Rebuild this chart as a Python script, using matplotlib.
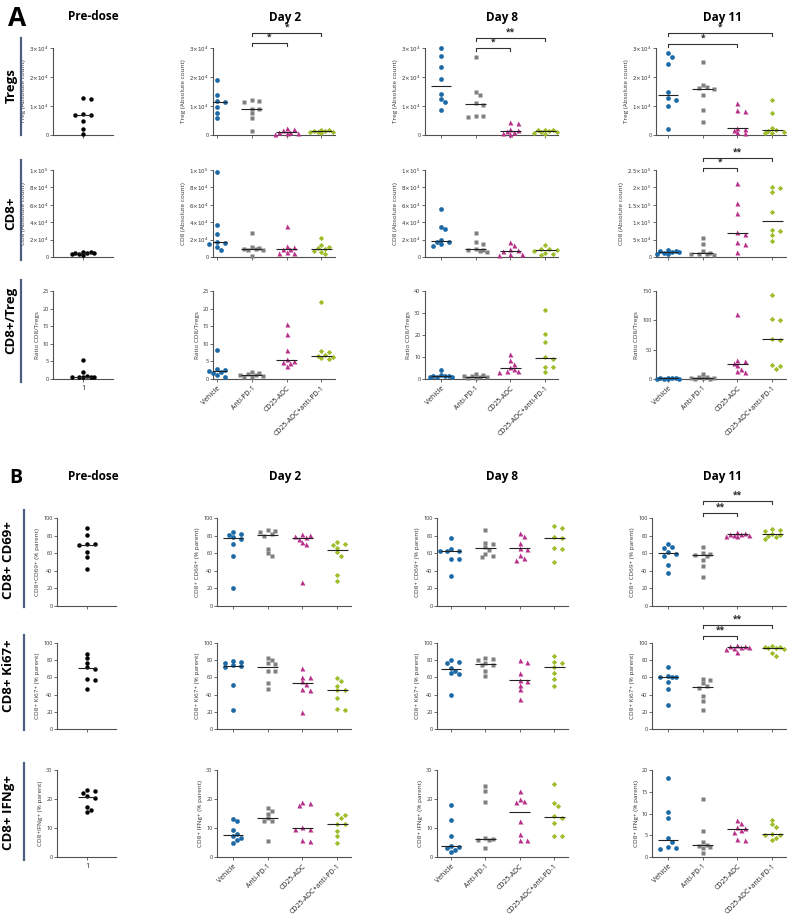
import matplotlib
matplotlib.use('Agg')
import matplotlib.pyplot as plt
import matplotlib.transforms as mtransforms
import numpy as np

plt.rcParams['font.family'] = ['Open Sans', 'DejaVu Sans']
plt.rcParams['mathtext.fontset'] = 'dejavusans'

groups = ['Vehicle', 'Anti-PD-1', 'CD25-ADC', 'CD25-ADC+anti-PD-1']
colors = ['#1b69a6', '#7f7f7f', '#b8328b', '#9dbd2b']
markers = ['o', 's', '^', 'D']
msizes = [3.4, 3.2, 3.6, 2.7]

# ---- panel A ----
treg_pre = [12700, 12300, 7200, 7000, 6900, 4700, 2200, 300]
treg_d2 = [[19000, 13900, 11600, 11400, 9700, 7700, 6000],
           [12000, 11700, 11400, 9100, 8800, 7600, 6000, 1400],
           [2500, 2000, 1800, 1200, 1000, 800, 600, 500],
           [1800, 1600, 1400, 1300, 1200, 1000, 900, 800]]
treg_d8 = [[30000, 27100, 23300, 19400, 14100, 12500, 11400, 8700],
           [26900, 14700, 13800, 11000, 10400, 6700, 6600, 6300],
           [4600, 4000, 2000, 1700, 1300, 1000, 600, 300],
           [1800, 1700, 1600, 1300, 1200, 1000, 700, 500]]
treg_d11 = [[28200, 26800, 24500, 15000, 12600, 12000, 10000, 2100],
            [25300, 17200, 16500, 16100, 15900, 13800, 8600, 4400],
            [10900, 8600, 8300, 2500, 2200, 1800, 900, 600],
            [12000, 7700, 2500, 1800, 1500, 1200, 800, 600]]

cd8_pre = [6000, 5500, 5000, 4500, 4200, 4000, 3500, 2500]
cd8_d2 = [[98000, 37000, 26000, 17500, 16500, 15500, 11000, 8500],
          [28000, 11000, 10000, 9500, 9000, 8500, 7500, 1500],
          [36000, 12500, 12000, 9500, 9000, 5500, 5000, 5000],
          [22000, 13500, 12000, 10000, 9000, 7000, 5500, 3000]]
cd8_d8 = [[55500, 35000, 32000, 19500, 17500, 17000, 14500, 13000],
          [28000, 17000, 15500, 9500, 8500, 7500, 7000, 6000],
          [17500, 14000, 9000, 7500, 7000, 3000, 3000, 2500],
          [14000, 9500, 9000, 8000, 7000, 5000, 3000, 2000]]
cd8_d11 = [[20000, 18000, 17000, 15000, 14000, 12000, 10000, 8000],
           [54000, 37000, 16000, 12000, 10000, 9000, 8000, 6000],
           [213000, 154000, 126000, 71000, 66000, 42000, 38000, 13000],
           [202000, 197000, 186000, 128000, 78000, 75000, 62000, 45000]]

ratio_pre = [5.4, 1.9, 0.8, 0.7, 0.7, 0.6, 0.6, 0.5]
ratio_d2 = [[8.3, 2.9, 2.6, 2.4, 2.0, 1.8, 1.0, 0.6],
            [2.0, 1.6, 1.4, 1.2, 1.0, 0.8, 0.7, 0.6],
            [15.5, 12.7, 8.1, 5.6, 5.2, 4.8, 4.5, 3.6],
            [22.0, 7.9, 7.7, 6.8, 6.5, 6.3, 5.9, 5.6]]
ratio_d8 = [[4.3, 1.8, 1.5, 1.3, 1.2, 1.0, 0.8, 0.7],
            [2.4, 1.8, 1.5, 1.2, 1.0, 0.8, 0.6, 0.5],
            [11.3, 8.5, 6.8, 5.5, 4.4, 3.8, 3.5, 3.1],
            [31.2, 20.3, 16.8, 10.0, 9.2, 5.5, 5.5, 3.3]]
ratio_d11 = [[2.0, 1.5, 1.2, 1.0, 0.8, 0.6, 0.5, 0.3],
             [8, 4, 3, 2, 1.5, 1, 0.8, 0.5],
             [110, 33, 31, 28, 24, 17, 13, 12],
             [144, 103, 101, 68, 67, 24, 23, 17]]

# ---- panel B ----
cd69_pre = [89, 81, 71, 70, 69, 61, 56, 42]
cd69_d2 = [[84, 82, 81, 78, 76, 70, 57, 21],
           [86, 85, 84, 82, 80, 65, 60, 57],
           [82, 81, 80, 78, 76, 73, 70, 27],
           [73, 71, 69, 66, 61, 57, 35, 28]]
cd69_d8 = [[77, 65, 63, 62, 62, 53, 53, 34],
           [86, 72, 71, 67, 64, 59, 57, 56],
           [83, 80, 72, 66, 65, 58, 54, 52],
           [91, 89, 78, 77, 66, 65, 50]]
cd69_d11 = [[71, 67, 66, 61, 59, 57, 47, 38],
            [67, 60, 59, 58, 57, 52, 46, 33],
            [84, 83, 82, 82, 81, 81, 80, 79],
            [87, 86, 85, 82, 81, 79, 78, 76]]

ki67_pre = [87, 82, 77, 72, 70, 58, 57, 46]
ki67_d2 = [[79, 78, 77, 74, 73, 72, 51, 22],
           [83, 80, 77, 76, 68, 67, 53, 46],
           [71, 61, 60, 56, 52, 46, 45, 20],
           [59, 56, 50, 45, 45, 36, 23, 22]]
ki67_d8 = [[80, 78, 77, 71, 68, 65, 64, 39],
           [82, 81, 80, 77, 75, 74, 68, 62],
           [80, 78, 65, 57, 56, 51, 46, 35],
           [85, 78, 77, 72, 65, 58, 50]]
ki67_d11 = [[72, 62, 61, 61, 60, 55, 46, 28],
            [58, 57, 53, 50, 48, 38, 32, 22],
            [98, 97, 96, 95, 95, 94, 93, 89],
            [96, 95, 95, 94, 94, 93, 88, 85]]

ifng_pre = [23.0, 22.6, 22.2, 20.9, 20.3, 17.2, 16.3, 15.6]
ifng_d2 = [[13.0, 12.3, 9.2, 8.0, 7.1, 6.5, 5.7, 4.8],
           [17.0, 16.0, 15.0, 13.5, 12.5, 12.3, 5.4],
           [19.1, 18.5, 18.0, 10.2, 9.8, 9.6, 6.0, 5.4],
           [14.8, 14.5, 13.4, 11.3, 11.3, 9.0, 7.3, 5.0]]
ifng_d8 = [[18.0, 12.9, 7.4, 3.8, 3.6, 3.1, 2.5, 1.6],
           [24.5, 22.6, 19.1, 6.5, 6.2, 6.0, 5.7, 3.1],
           [22.8, 20.0, 19.2, 18.8, 12.5, 8.0, 6.0, 5.7],
           [25.2, 18.6, 17.6, 14.0, 13.4, 11.7, 7.3, 7.1]]
ifng_d11 = [[18.1, 10.4, 8.9, 4.3, 3.4, 2.2, 2.1, 1.8],
            [13.3, 5.9, 3.5, 2.8, 2.6, 2.3, 2.0, 0.9],
            [8.4, 7.8, 6.9, 6.7, 6.1, 5.7, 4.1, 4.0],
            [8.5, 7.5, 6.9, 5.3, 5.1, 5.0, 4.4, 3.8]]

# significance comparisons (group a, group b, label)
sig_treg_d2 = [(1, 2, '*'), (1, 3, '*')]
sig_treg_d8 = [(1, 2, '*'), (1, 3, '**')]
sig_treg_d11 = [(0, 2, '*'), (0, 3, '*')]
sig_cd8_d11 = [(1, 2, '*'), (1, 3, '**')]
sig_cd69_d11 = [(1, 2, '**'), (1, 3, '**')]
sig_ki67_d11 = [(1, 2, '**'), (1, 3, '**')]

W, H = 787, 917
fig = plt.figure(figsize=(W / 100, H / 100), dpi=100)
AXC = '#505050'


def swarm(vals, px_per_y, d=4.2, step=3.8, nmax=3):
    # simple deterministic beeswarm, width limited like GraphPad scatter
    vals = np.asarray(vals, float)
    placed = []
    offs = np.zeros(len(vals))
    cands = [0.0]
    for n in range(1, nmax + 1):
        cands += [n * step, -n * step]
    for i in np.argsort(-vals):
        yp = vals[i] * px_per_y
        best, best_d = 0.0, -1
        for c in cands:
            md = min([np.hypot(c - px, yp - py) for px, py in placed] + [99])
            if md >= d:
                best = c
                break
            if md > best_d:
                best, best_d = c, md
        placed.append((best, yp))
        offs[i] = best
    return offs


def sci(v):
    if v == 0:
        return '0'
    e = int(np.floor(np.log10(v)))
    m = v / 10 ** e
    return r'$%s{\times}10^{%d}$' % ('%g' % m, e)


def panel(col, row, data, ymax, yticks, ylabel, sci_fmt=False, xlabels=None,
          sigs=None, sig_px=None):
    x0, x1, ft, sp = col
    top, bot = row
    ax = fig.add_axes([x0 / W, 1 - bot / H, (x1 - x0) / W, (bot - top) / H])
    ax.set_xlim((x0 - ft) / sp, (x1 - ft) / sp)
    ax.set_ylim(0, ymax)
    px_per_y = (bot - top) / ymax
    if not isinstance(data[0], (list, tuple)):
        sets = [(0, data, 'black', 'o', 3.2)]
    else:
        sets = [(i, d, colors[i], markers[i], msizes[i]) for i, d in enumerate(data)]
    for i, vals, c, m, ms in sets:
        offs = swarm(vals, px_per_y) / sp
        ax.plot(i + offs, vals, ls='none', marker=m, ms=ms, color=c,
                mec='none', clip_on=False, zorder=3)
        med = np.median(vals)
        ax.plot([i - 0.3, i + 0.3], [med, med], color='#222222', lw=0.8,
                zorder=4, solid_capstyle='butt')
    for s in ['top', 'right']:
        ax.spines[s].set_visible(False)
    for s in ['left', 'bottom']:
        ax.spines[s].set_color(AXC)
        ax.spines[s].set_linewidth(0.8)
    ax.set_yticks(yticks)
    if sci_fmt:
        ax.set_yticklabels([sci(t) for t in yticks])
    else:
        ax.set_yticklabels(['%g' % t for t in yticks])
    n = len(sets)
    ax.set_xticks(range(n))
    if xlabels is None:
        ax.set_xticklabels([])
    elif n == 1:
        ax.set_xticklabels(xlabels, fontsize=5.2)
    else:
        ax.set_xticklabels(xlabels, rotation=45, ha='right',
                           rotation_mode='anchor', fontsize=5.0)
    ax.tick_params(axis='y', length=2, width=0.6, color=AXC, labelsize=4,
                   pad=1.2, labelcolor='#333333')
    ax.tick_params(axis='x', length=2, width=0.6, color=AXC, pad=2,
                   labelcolor='#222222')
    ax.set_ylabel(ylabel, fontsize=4.6, labelpad=2, color='#333333')
    if sigs:
        tr = mtransforms.blended_transform_factory(ax.transData, ax.transAxes)
        for (a, b, lab), ypx in zip(sigs, sig_px):
            yf = (bot - ypx) / (bot - top)
            tk = 3.0 / (bot - top)
            ax.plot([a, a, b, b], [yf - tk, yf, yf, yf - tk], color='#333333',
                    lw=0.8, transform=tr, clip_on=False)
            ax.text((a + b) / 2, yf + 1.0 / (bot - top), lab, transform=tr,
                    ha='center', va='bottom', fontsize=6, color='#222222',
                    fontweight='bold')
    return ax


# column layouts: (axis left px, axis right px, first tick px, spacing px)
colA = [(53, 113, 83, 30), (213, 335, 217, 34.8), (425, 558, 441, 34.7), (656, 786, 668, 34.7)]
colB = [(57, 116, 87, 29), (217, 351, 233, 34.7), (437, 568, 451, 34.4), (652, 786, 668, 34.7)]
rowsA = [(48, 135), (170, 257), (291, 379)]
rowsB = [(518, 606), (643, 729), (770, 857)]

tr_ticks = [0, 1e4, 2e4, 3e4]
c8_ticks = [0, 2e4, 4e4, 6e4, 8e4, 1e5]
c8_ticks11 = [0, 5e4, 1e5, 1.5e5, 2e5, 2.5e5]
pct = [0, 20, 40, 60, 80, 100]

# row A1 Treg
panel(colA[0], rowsA[0], treg_pre, 3e4, tr_ticks, 'Treg (Absolute count)', True)
panel(colA[1], rowsA[0], treg_d2, 3e4, tr_ticks, 'Treg (Absolute count)', True,
      sigs=sig_treg_d2, sig_px=[43, 33])
panel(colA[2], rowsA[0], treg_d8, 3e4, tr_ticks, 'Treg (Absolute count)', True,
      sigs=sig_treg_d8, sig_px=[48, 38])
panel(colA[3], rowsA[0], treg_d11, 3e4, tr_ticks, 'Treg (Absolute count)', True,
      sigs=sig_treg_d11, sig_px=[44, 33])
# row A2 CD8
panel(colA[0], rowsA[1], cd8_pre, 1e5, c8_ticks, 'CD8 (Absolute count)', True)
panel(colA[1], rowsA[1], cd8_d2, 1e5, c8_ticks, 'CD8 (Absolute count)', True)
panel(colA[2], rowsA[1], cd8_d8, 1e5, c8_ticks, 'CD8 (Absolute count)', True)
panel(colA[3], rowsA[1], cd8_d11, 2.5e5, c8_ticks11, 'CD8 (Absolute count)', True,
      sigs=sig_cd8_d11, sig_px=[168, 158])
# row A3 ratio
panel(colA[0], rowsA[2], ratio_pre, 25, [0, 5, 10, 15, 20, 25], 'Ratio CD8/Tregs', xlabels=['1'])
panel(colA[1], rowsA[2], ratio_d2, 25, [0, 5, 10, 15, 20, 25], 'Ratio CD8/Tregs', xlabels=groups)
panel(colA[2], rowsA[2], ratio_d8, 40, [0, 10, 20, 30, 40], 'Ratio CD8/Tregs', xlabels=groups)
panel(colA[3], rowsA[2], ratio_d11, 150, [0, 50, 100, 150], 'Ratio CD8/Tregs', xlabels=groups)
# row B1 CD69
panel(colB[0], rowsB[0], cd69_pre, 100, pct, 'CD8+CD69+ (% parent)')
panel(colB[1], rowsB[0], cd69_d2, 100, pct, 'CD8+ CD69+ (% parent)')
panel(colB[2], rowsB[0], cd69_d8, 100, pct, 'CD8+ CD69+ (% parent)')
panel(colB[3], rowsB[0], cd69_d11, 100, pct, 'CD8+ CD69+ (% parent)',
      sigs=sig_cd69_d11, sig_px=[513, 501])
# row B2 Ki67
panel(colB[0], rowsB[1], ki67_pre, 100, pct, 'CD8+ Ki67+ (% parent)')
panel(colB[1], rowsB[1], ki67_d2, 100, pct, 'CD8+ Ki67+ (% parent)')
panel(colB[2], rowsB[1], ki67_d8, 100, pct, 'CD8+ Ki67+ (% parent)')
panel(colB[3], rowsB[1], ki67_d11, 100, pct, 'CD8+ Ki67+ (% parent)',
      sigs=sig_ki67_d11, sig_px=[636, 625])
# row B3 IFNg
panel(colB[0], rowsB[2], ifng_pre, 30, [0, 10, 20, 30], 'CD8+IFNg+ (% parent)', xlabels=['1'])
panel(colB[1], rowsB[2], ifng_d2, 30, [0, 10, 20, 30], 'CD8+ IFNg+ (% parent)', xlabels=groups)
panel(colB[2], rowsB[2], ifng_d8, 30, [0, 10, 20, 30], 'CD8+ IFNg+ (% parent)', xlabels=groups)
panel(colB[3], rowsB[2], ifng_d11, 20, [0, 5, 10, 15, 20], 'CD8+ IFNg+ (% parent)', xlabels=groups)

# titles, panel letters, row labels
titles = ['Pre-dose', 'Day 2', 'Day 8', 'Day 11']
title_x = [93, 285, 502, 722]
for t, x in zip(titles, title_x):
    fig.text(x / W, 1 - 17 / H, t, ha='center', va='center', fontsize=8.5, fontweight='bold')
    fig.text(x / W, 1 - 477 / H, t, ha='center', va='center', fontsize=8.5, fontweight='bold')
fig.text(8 / W, 1 - 19 / H, 'A', ha='left', va='center', fontsize=19, fontweight='bold')
fig.text(9 / W, 1 - 478 / H, 'B', ha='left', va='center', fontsize=14, fontweight='bold')

row_labels = ['Tregs', 'CD8+', 'CD8+/Treg', 'CD8+ CD69+', 'CD8+ Ki67+', 'CD8+ IFNg+']
label_y = [86, 213, 320, 560, 676, 812]
line_span = [(38, 135), (160, 260), (280, 382), (510, 607), (635, 730), (763, 860)]
line_x = [21, 21, 21, 24, 24, 24]
label_x = [11, 11, 11, 9, 9, 9]
for lab, y, (a, b), lx, tx in zip(row_labels, label_y, line_span, line_x, label_x):
    fig.text(tx / W, 1 - y / H, lab, rotation=90, ha='center', va='center',
             fontsize=9.5, fontweight='bold')
    fig.add_artist(plt.Line2D([lx / W, lx / W], [1 - a / H, 1 - b / H],
                              color='#4b5f7e', lw=1.6))

fig.savefig('out.png', dpi=100)
